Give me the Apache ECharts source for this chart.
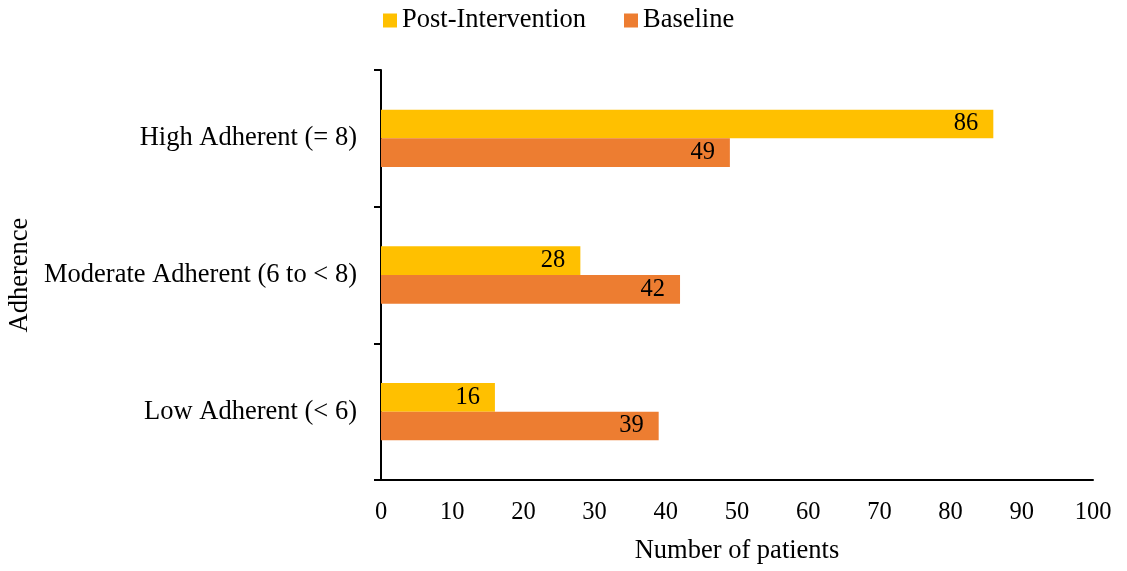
<!DOCTYPE html>
<html>
<head>
<meta charset="utf-8">
<script src="https://cdn.jsdelivr.net/npm/echarts@6/dist/echarts.min.js"></script>
<style>
  html, body { margin: 0; padding: 0; background: #fff; }
  #chart { width: 1127px; height: 571px; }
</style>
</head>
<body>
<div id="chart"></div>
<script>
// Adherence groups, top to bottom
const categories = ['High Adherent (= 8)', 'Moderate Adherent (6 to < 8)', 'Low Adherent (< 6)'];
const postIntervention = [86, 28, 16];
const baseline = [49, 42, 39];
const xTicks = { min: 0, max: 100, interval: 10 };

const FONT = '"Liberation Serif", "Times New Roman", serif';
const TEXT_SIZE = 26.5;
const NUM_SIZE = 24.5;
const chart = echarts.init(document.getElementById('chart'));

const labelStyle = {
  show: true,
  position: 'insideRight',
  distance: 15,
  color: '#000',
  fontFamily: FONT,
  fontSize: NUM_SIZE
};

chart.setOption({
  animation: false,
  textStyle: { fontFamily: FONT },
  legend: {
    data: ['Post-Intervention', 'Baseline'],
    top: 2,
    left: 378,
    itemWidth: 14,
    itemHeight: 14,
    itemGap: 38,
    icon: 'rect',
    textStyle: { fontFamily: FONT, fontSize: TEXT_SIZE, color: '#000' }
  },
  grid: {
    left: 381, right: 34, top: 70, bottom: 91,
    containLabel: false,
    outerBoundsMode: 'none'
  },
  xAxis: {
    type: 'value',
    min: xTicks.min,
    max: xTicks.max,
    interval: xTicks.interval,
    name: 'Number of patients',
    nameLocation: 'middle',
    nameGap: 58,
    nameTextStyle: { fontFamily: FONT, fontSize: TEXT_SIZE, color: '#000' },
    axisLine: { show: true, lineStyle: { color: '#000', width: 2 } },
    axisTick: { show: false },
    splitLine: { show: false },
    axisLabel: { fontFamily: FONT, fontSize: NUM_SIZE, color: '#000', margin: 20 }
  },
  yAxis: {
    type: 'category',
    data: categories,
    inverse: true,
    name: 'Adherence',
    nameLocation: 'middle',
    nameGap: 341,
    nameRotate: 90,
    nameTextStyle: { fontFamily: FONT, fontSize: TEXT_SIZE, color: '#000' },
    axisLine: { show: true, lineStyle: { color: '#000', width: 2 } },
    axisTick: { show: true, length: 7, inside: false, lineStyle: { color: '#000', width: 2 } },
    axisLabel: { fontFamily: FONT, fontSize: TEXT_SIZE, color: '#000', margin: 24 }
  },
  series: [
    {
      name: 'Post-Intervention',
      type: 'bar',
      data: postIntervention,
      itemStyle: { color: '#FFC000' },
      barGap: '0%',
      barCategoryGap: '58%',
      label: labelStyle
    },
    {
      name: 'Baseline',
      type: 'bar',
      data: baseline,
      itemStyle: { color: '#ED7D31' },
      barGap: '0%',
      barCategoryGap: '58%',
      label: labelStyle
    }
  ]
});
</script>
</body>
</html>
